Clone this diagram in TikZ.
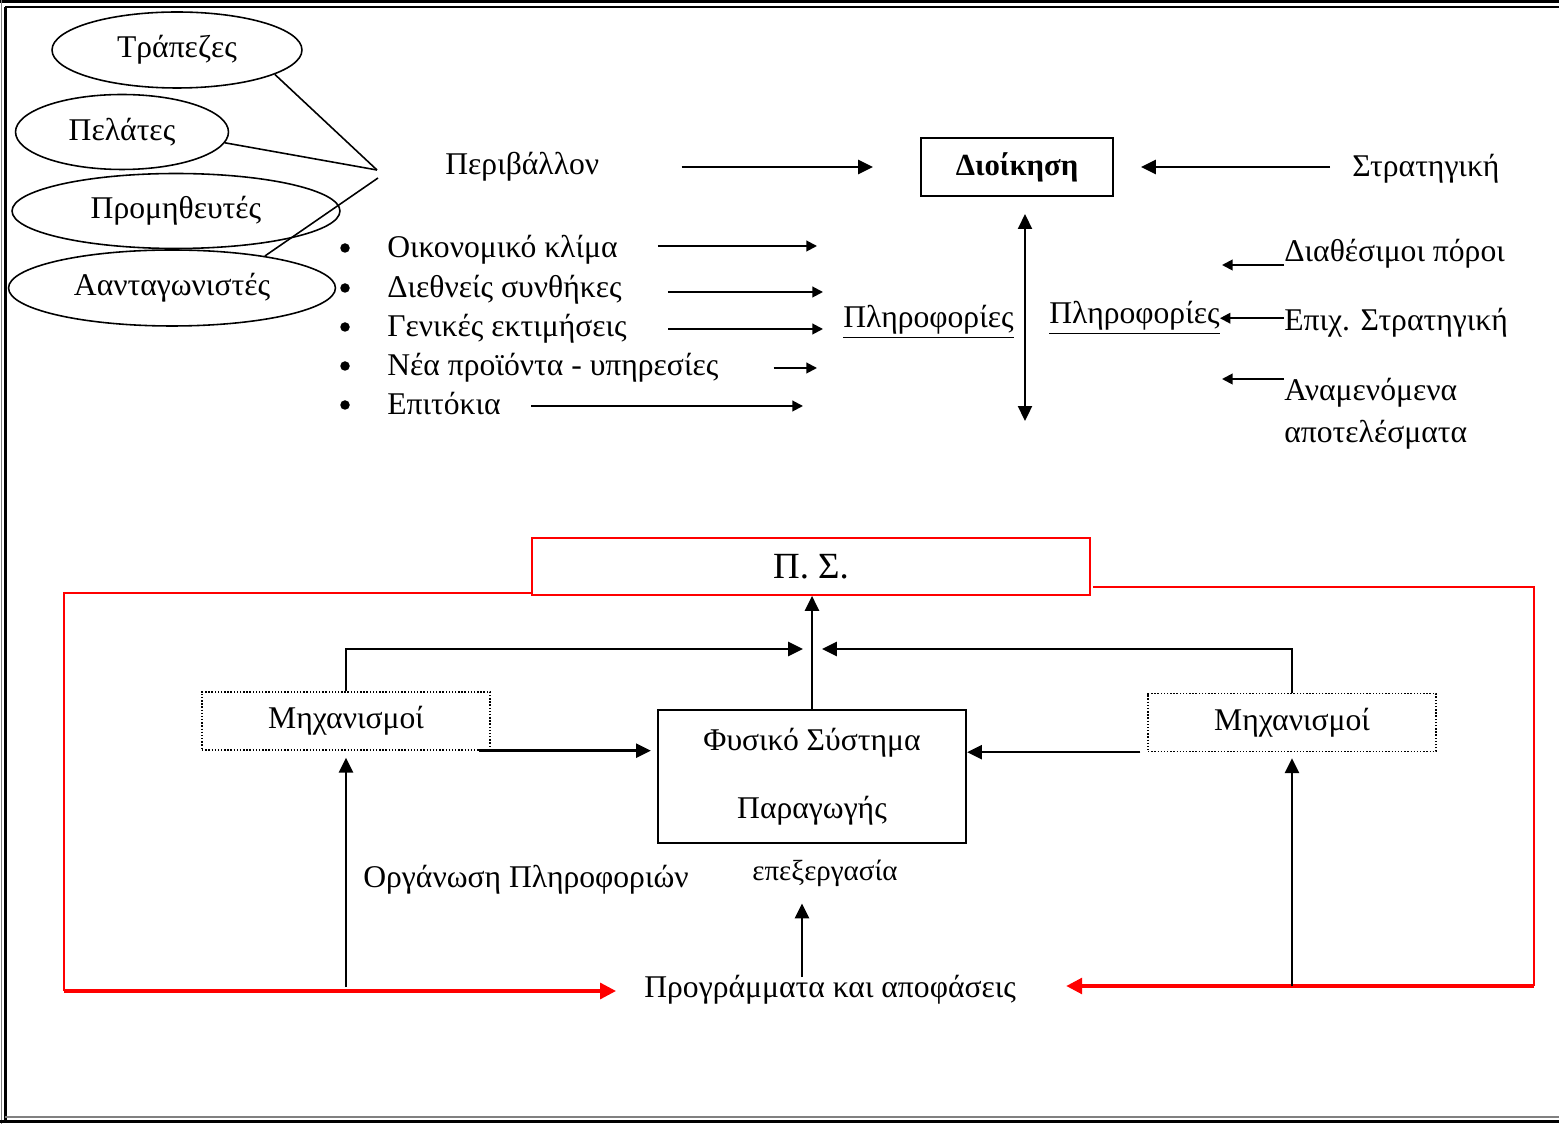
\documentclass[tikz,border=0pt]{standalone}
\usepackage{fontspec}
\setmainfont{Liberation Serif}
\usetikzlibrary{arrows.meta, shapes.geometric, positioning, calc}

\tikzset{
  env/.style={draw, ellipse, line width=0.9pt, inner sep=0pt, font=\fontsize{18}{20}\selectfont},
  lbl/.style={inner sep=0pt, font=\fontsize{18}{24}\selectfont},
  dot/.style={circle, fill, inner sep=0pt, minimum size=0.19cm},
  mech/.style={draw, densely dotted, line width=0.8pt, minimum width=5.76cm, minimum height=1.16cm, font=\fontsize{18}{20}\selectfont},
  arr/.style={-{Triangle[length=8.5pt,width=8pt]}, line width=1.4pt},
  sarr/.style={-{Triangle[length=6pt,width=6pt]}, line width=1.1pt},
  redline/.style={red, line width=1.1pt},
  redarr/.style={-{Triangle[length=9pt,width=9pt]}, red, line width=1.8pt}
}

\begin{document}
\begin{tikzpicture}[x=0.02cm, y=-0.02cm]
\useasboundingbox (0,0) rectangle (1559,1124);

% frame
\draw[line width=1.7pt] (0,1.5) -- (1559,1.5);
\draw[line width=0.8pt] (5,7) -- (1559,7);
\draw[line width=0.8pt, gray] (1.5,0) -- (1.5,1124);
\draw[line width=1.7pt] (5.5,7) -- (5.5,1121);
\draw[line width=0.8pt, gray] (5,1117) -- (1559,1117);
\draw[line width=1.7pt] (0,1121.5) -- (1559,1121.5);

% environment
\node[env, minimum width=5cm, minimum height=1.52cm] (banks) at (177,50) {Τράπεζες};
\node[env, minimum width=4.26cm, minimum height=1.5cm] (clients) at (122,132) {Πελάτες};
\node[env, minimum width=6.56cm, minimum height=1.5cm] (suppliers) at (176,211) {Προμηθευτές};
\node[env, minimum width=6.54cm, minimum height=1.52cm] (rivals) at (172,288) {Αανταγωνιστές};
\coordinate (hub) at (377,170);
\coordinate (hubb) at (378,178);
\draw[line width=0.9pt] (banks.-14) -- (hub);
\draw[line width=0.9pt] (clients.-6) -- (hub);
\draw[line width=0.9pt] (rivals.19) -- (hubb);

\node[lbl, anchor=base west] (env) at (445,175) {Περιβάλλον};
\node[draw, line width=1.2pt, minimum width=3.84cm, minimum height=1.16cm, font=\bfseries\fontsize{17.5}{20}\selectfont] (dioik) at (1017,167) {Διοίκηση};
\node[lbl, anchor=base west] (strat) at (1352,177) {Στρατηγική};
\draw[arr, shorten <=1.64cm, shorten >=0.94cm] (env.east |- dioik.west) -- (dioik.west);
\draw[arr, shorten <=0.44cm, shorten >=0.54cm] (strat.west |- dioik.east) -- (dioik.east);

% factors
\foreach \n/\txt/\y/\ay/\t/\g in {1/Οικονομικό κλίμα/258/246/817/0.8cm,
    2/Διεθνείς συνθήκες/298/292/823/0.92cm,
    3/Γενικές εκτιμήσεις/337/329/823/0.82cm,
    4/Νέα προϊόντα - υπηρεσίες/376/368/817/1.1cm,
    5/Επιτόκια/415/406/803/0.6cm} {
  \node[dot] (b\n) at (345,\y-10) {};
  \node[lbl, anchor=base west] (i\n) at (387,\y) {\txt};
  \coordinate (tip\n) at (\t,\ay);
  \draw[sarr, shorten <=\g] (tip\n -| i\n.east) -- (tip\n);
}

\node[lbl, anchor=base west] (info1) at (843,328) {\underline{Πληροφορίες}};
\node[lbl, anchor=base west] (info2) at (1049,324) {\underline{Πληροφορίες}};
\coordinate (vbot) at (1025,421);
\draw[{Triangle[length=8.5pt,width=8pt]}-{Triangle[length=8.5pt,width=8pt]}, line width=1.1pt, shorten <=0.34cm] (dioik.south -| vbot) -- (vbot);

% resources
\node[lbl, anchor=base west] (r1) at (1284,262) {Διαθέσιμοι πόροι};
\node[lbl, anchor=base west] (r2) at (1284,331) {Επιχ. Στρατηγική};
\node[lbl, anchor=north west, align=left] (r3) at (1284,378) {Αναμενόμενα\\αποτελέσματα};
\coordinate (lt1) at (1222,265);
\coordinate (lt3) at (1222,379);
\draw[sarr] (lt1 -| r1.west) -- (lt1);
\draw[sarr] ([yshift=0.1cm]r2.west) -- ([yshift=0.1cm]r2.west -| info2.east);
\draw[sarr] (lt3 -| r3.west) -- (lt3);

% information system
\node[draw=red, line width=1pt, minimum width=11.16cm, minimum height=1.14cm, font=\fontsize{21}{24}\selectfont] (ps) at (811,566.5) {Π. Σ.};
\node[draw, line width=1.2pt, minimum width=6.16cm, minimum height=2.66cm, align=center, font=\fontsize{18}{20}\selectfont] (fys) at (812,776.5) {Φυσικό Σύστημα\\[19pt]Παραγωγής};
\node[mech] (mechl) at (346,721) {Μηχανισμοί};
\node[mech] (mechr) at (1292,722.5) {Μηχανισμοί};
\node[lbl, anchor=base west] (org) at (363,888) {Οργάνωση Πληροφοριών};
\node[lbl, anchor=base west, font=\fontsize{16.5}{20}\selectfont] (edit) at (752,880) {επεξεργασία};
\node[lbl, anchor=base west] (prog) at (644,997) {Προγράμματα και αποφάσεις};

\coordinate (join) at (812,649);
\draw[arr] (fys.north) -- (fys.north |- ps.south);
\draw[arr, shorten >=0.18cm] (mechl.north) |- (join);
\draw[arr, shorten >=0.2cm] (mechr.north) |- (join);
\draw[arr, shorten >=0.12cm] ([xshift=-0.24cm]mechl.south east) -- (mechl.south east -| fys.west);
\draw[arr] ([xshift=-0.14cm]mechr.south west) -- (mechr.south west -| fys.east);

% feedback
\coordinate (redL) at (64,991);
\coordinate (redR) at (1534,986);
\draw[redline] ([yshift=0.06cm]ps.south west) -| (redL);
\draw[redarr, shorten >=0.56cm] (redL) -- (redL -| prog.west);
\draw[redline] ([yshift=-0.41cm, xshift=0.04cm]ps.east) -| (redR);
\draw[redarr, shorten >=1cm] (redR) -- (redR -| prog.east);

\draw[arr, shorten <=0.08cm, shorten >=0.14cm] (mechl.south |- redL) -- (mechl.south);
\draw[arr, shorten >=0.12cm] (mechr.south |- redR) -- (mechr.south);
\coordinate (ax) at (802,977);
\draw[arr, shorten >=0.34cm] (ax) -- (ax |- edit.south);

\end{tikzpicture}
\end{document}
